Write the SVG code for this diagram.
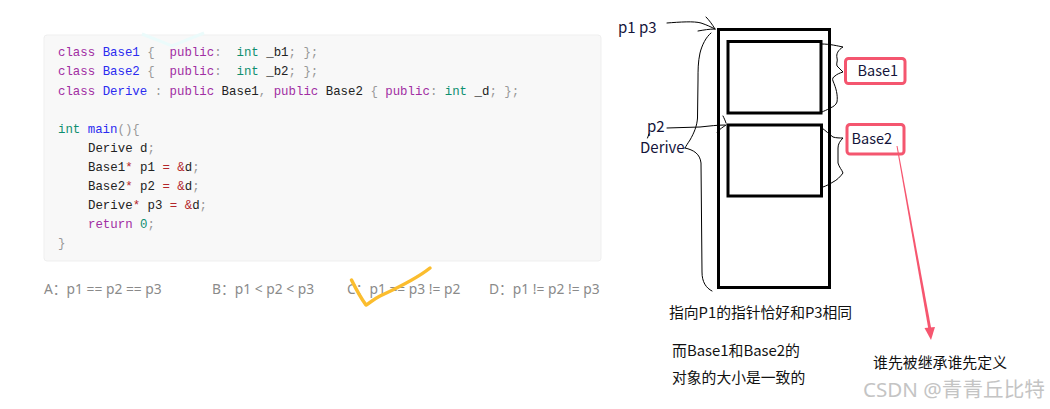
<svg xmlns="http://www.w3.org/2000/svg" width="1050" height="409" viewBox="0 0 1050 409">
<style>
.code{font-family:"Liberation Mono","DejaVu Sans Mono",monospace;font-size:12.4px;fill:#222}
.k{fill:#a12ea3}.t{fill:#2b2bf0}.i{fill:#0e8f6f}.g{fill:#999}.r{fill:#b3262b}
.opt{font-family:"Noto Sans","Noto Sans CJK SC",sans-serif;font-size:13.8px;fill:#8a8a8a}
.lbl{font-family:"Noto Sans CJK SC","Noto Sans",sans-serif;font-size:15px;fill:#14143a}
.cn{font-family:"Noto Sans CJK SC",sans-serif;fill:#111}
.hand{fill:none;stroke:#000;stroke-width:1;stroke-linecap:round;stroke-linejoin:round}
.box{fill:#fff;stroke:#f4566f;stroke-width:3}
</style>
<rect width="1050" height="409" fill="#fff"/>
<g id="code-block">
<rect x="44" y="35" width="557" height="226" rx="3" fill="#f8f8f8" stroke="#efefef"/>
<polyline points="142,34 172,46 204,33" fill="none" stroke="#ebfbfb" stroke-width="3"/>
<text class="code" xml:space="preserve"><tspan x="58" y="56"><tspan class="k">class</tspan> <tspan class="t">Base1</tspan> <tspan class="g">{</tspan>  <tspan class="k">public</tspan><tspan class="g">:</tspan>  <tspan class="i">int</tspan> _b1<tspan class="g">; };</tspan></tspan></text>
<text class="code" xml:space="preserve"><tspan x="58" y="75.2"><tspan class="k">class</tspan> <tspan class="t">Base2</tspan> <tspan class="g">{</tspan>  <tspan class="k">public</tspan><tspan class="g">:</tspan>  <tspan class="i">int</tspan> _b2<tspan class="g">; };</tspan></tspan></text>
<text class="code" xml:space="preserve"><tspan x="58" y="94.5"><tspan class="k">class</tspan> <tspan class="t">Derive</tspan> <tspan class="g">:</tspan> <tspan class="k">public</tspan> Base1<tspan class="g">,</tspan> <tspan class="k">public</tspan> Base2 <tspan class="g">{</tspan> <tspan class="k">public</tspan><tspan class="g">:</tspan> <tspan class="i">int</tspan> _d<tspan class="g">; };</tspan></tspan></text>
<text class="code" xml:space="preserve"><tspan x="58" y="133"><tspan class="i">int</tspan> <tspan class="t">main</tspan><tspan class="g">(){</tspan></tspan></text>
<text class="code" xml:space="preserve"><tspan x="88" y="152">Derive d<tspan class="g">;</tspan></tspan></text>
<text class="code" xml:space="preserve"><tspan x="88" y="171">Base1<tspan class="r">*</tspan> p1 <tspan class="r">=</tspan> <tspan class="r">&amp;</tspan>d<tspan class="g">;</tspan></tspan></text>
<text class="code" xml:space="preserve"><tspan x="88" y="190">Base2<tspan class="r">*</tspan> p2 <tspan class="r">=</tspan> <tspan class="r">&amp;</tspan>d<tspan class="g">;</tspan></tspan></text>
<text class="code" xml:space="preserve"><tspan x="88" y="209">Derive<tspan class="r">*</tspan> p3 <tspan class="r">=</tspan> <tspan class="r">&amp;</tspan>d<tspan class="g">;</tspan></tspan></text>
<text class="code" xml:space="preserve"><tspan x="88" y="228"><tspan class="k">return</tspan> <tspan class="i">0</tspan><tspan class="g">;</tspan></tspan></text>
<text class="code" xml:space="preserve"><tspan x="58" y="247" class="g">}</tspan></text>
</g>
<g id="options">
<text class="opt" x="44" y="294">A：p1 == p2 == p3</text>
<text class="opt" x="212" y="294">B：p1 &lt; p2 &lt; p3</text>
<text class="opt" x="347" y="294">C：p1 == p3 != p2</text>
<text class="opt" x="489" y="294">D：p1 != p2 != p3</text>
<path d="M351.5,280 C355,287 360,297 366,305 C369,304 372,300 380,296 C395,289 415,280 430,268" fill="none" stroke="#fbbd2e" stroke-width="3.5" stroke-linecap="round" stroke-linejoin="round"/>
</g>
<g id="derive-object">
<rect x="718.5" y="29.5" width="111" height="258" fill="none" stroke="#000" stroke-width="3"/>
</g>
<g id="base1-part">
<rect x="728" y="41.5" width="93" height="71.5" fill="none" stroke="#000" stroke-width="3"/>
</g>
<g id="base2-part">
<rect x="728" y="125" width="93.5" height="71" fill="none" stroke="#000" stroke-width="3"/>
</g>
<g id="labels">
<text class="lbl" x="618" y="33">p1 p3</text>
<text class="lbl" x="647" y="132">p2</text>
<text class="lbl" x="640" y="152.5">Derive</text>
</g>
<g id="base1-label">
<rect class="box" x="845.5" y="58.5" width="59.5" height="25" rx="3"/>
<text class="lbl" x="857.5" y="75.5" style="font-size:14.5px">Base1</text>
</g>
<g id="base2-label">
<rect class="box" x="847" y="124.5" width="57" height="29.5" rx="3"/>
<text class="lbl" x="851.5" y="143.5" style="font-size:14.5px">Base2</text>
</g>
<g id="connectors">
<path class="hand" d="M667,23 C680,22 694,21 701,23 C707,25 711,27 715,29"/>
<path class="hand" d="M706,17 C709,20 712,24 715,29"/>
<path class="hand" d="M698,31 C704,30 709,29 715,29"/>
<path class="hand" d="M711,33 C706,37 702,45 700,53 C698,62 698,70 698,80 L697.5,118 C697,126 694,133 690,140 C688,143 686,146 685,148"/>
<path class="hand" d="M685,148 C694,150 700,154 701,163 L702,272 C702,282 706,288 712,291"/>
<path class="hand" d="M667,128 L700,127 C710,126 717,125 725,125"/>
<path class="hand" d="M723,116 C724,118 725,120 726,123"/>
<path class="hand" d="M717,132 C720,129 723,127 726,125"/>
<path class="hand" d="M649,134 L647.5,138"/>
<path class="hand" d="M822,44 C830,44 838,46 843,47 C838,50 836,54 837,58 C838,61 836,63 837,66 C839,68 841,70 843,72 C840,73 837,74 835,76 C833,77 832,79 833,81 C836,88 838,95 837,102 C836,105 833,107 830,108 C827,110 824,111 822,112"/>
<path class="hand" d="M822,128 C826,131 829,134 833,137 C836,138 840,138 843,138 C840,141 838,144 838,148 L838,163 C839,167 842,170 843,173 C840,177 837,180 833,182 C830,184 826,186 823,187"/>
<polygon points="896.5,146 897.5,146 931.5,330 928.5,330" fill="#f6566f"/>
<polygon points="924.5,328 935,327 931,340" fill="#f6566f"/>
</g>
<g id="notes">
<text class="cn" x="669" y="318" style="font-size:14.8px">指向P1的指针恰好和P3相同</text>
<text class="cn" x="672" y="355.5" style="font-size:14.9px">而Base1和Base2的</text>
<text class="cn" x="672" y="382.5" style="font-size:14.8px">对象的大小是一致的</text>
<text class="cn" x="873" y="367.5" style="font-size:14.9px">谁先被继承谁先定义</text>
<text x="863" y="397" style="font-family:'Noto Sans','Noto Sans CJK SC',sans-serif;font-size:20.6px;fill:#c4c4c4">CSDN @青青丘比特</text>
</g>
</svg>
